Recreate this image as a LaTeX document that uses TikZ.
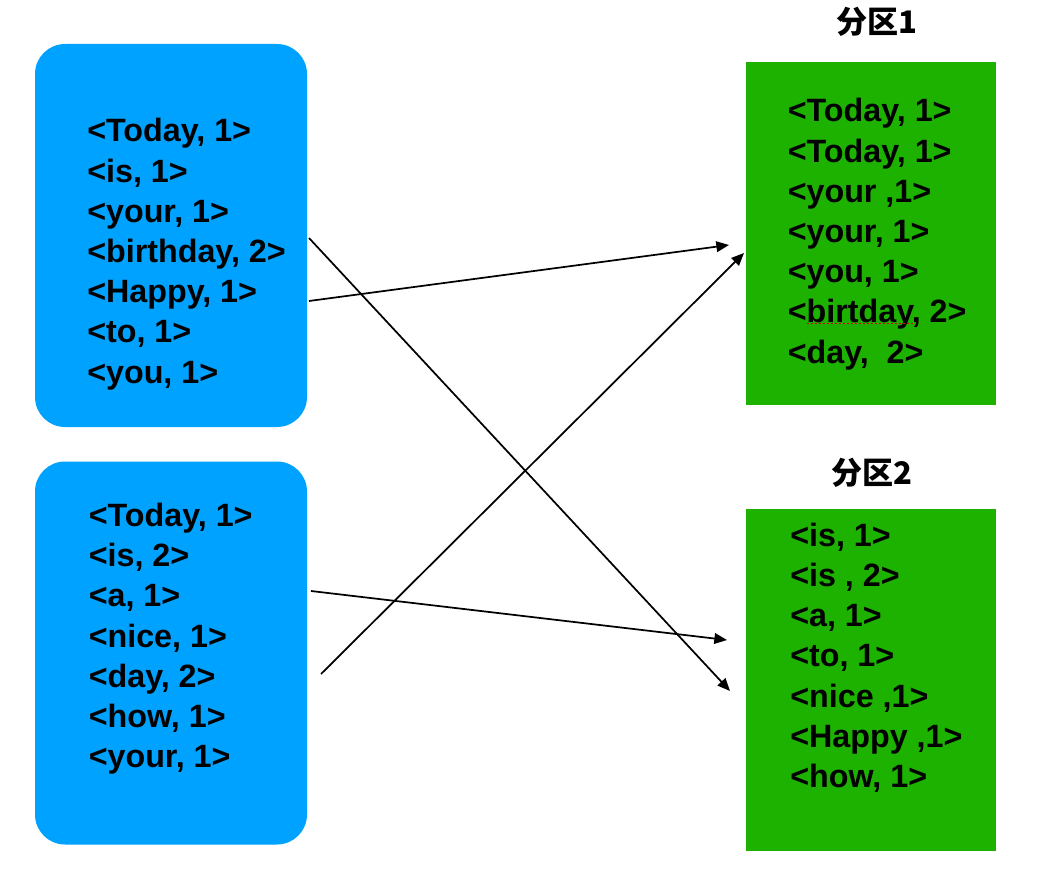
\documentclass[tikz,border=0pt]{standalone}
\usepackage{fontspec}
\setmainfont{Liberation Sans}
\newfontfamily\cjkfont{Noto Sans CJK SC}
\usetikzlibrary{arrows.meta}
\definecolor{boxblue}{RGB}{0,162,255}
\definecolor{boxgreen}{RGB}{29,177,0}
\tikzset{
  bluebox/.style={fill=boxblue, draw=none, rounded corners=22.5pt, minimum width=204pt, minimum height=287.25pt, inner sep=0pt},
  greenbox/.style={fill=boxgreen, draw=none, minimum width=187.5pt, minimum height=257pt, inner sep=0pt},
  entry/.style={anchor=base west, inner sep=0pt, font=\fontsize{24.2pt}{28pt}\selectfont\bfseries},
  title/.style={inner sep=0pt, font=\fontsize{23.3pt}{26pt}\selectfont\cjkfont\bfseries},
  link/.style={draw=black, line width=1.3pt, -{Triangle[length=9.5pt,width=8pt]}}
}
\begin{document}
\begin{tikzpicture}[x=0.75pt,y=-0.75pt]
\useasboundingbox (0,0) rectangle (1062,880);
% boxes
\node[bluebox] (b1) at (171,235.5) {};
\node[bluebox] (b2) at (171,653) {};
\node[greenbox] (g1) at (871,233.5) {};
\node[greenbox] (g2) at (871,680) {};
% titles
\node[title] (t1) at (877,22) {分区1};
\node[title] (t2) at (872,473) {分区2};
% entries
\foreach \txt [count=\i from 0] in {{<Today, 1>},{<is, 1>},{<your, 1>},{<birthday, 2>},{<Happy, 1>},{<to, 1>},{<you, 1>}}
  \node[entry] (b1l\i) at (87,142+40.17*\i) {\txt};
\foreach \txt [count=\i from 0] in {{<Today, 1>},{<is, 2>},{<a, 1>},{<nice, 1>},{<day, 2>},{<how, 1>},{<your, 1>}}
  \node[entry] (b2l\i) at (88.5,526.5+40.17*\i) {\txt};
\foreach \txt [count=\i from 0] in {{<Today, 1>},{<Today, 1>},{<your ,1>},{<your, 1>},{<you, 1>},{<birtday, 2>},{<day,\ \ 2>}}
  \node[entry] (g1l\i) at (787.5,122+40.17*\i) {\txt};
\foreach \txt [count=\i from 0] in {{<is, 1>},{<is , 2>},{<a, 1>},{<to, 1>},{<nice ,1>},{<Happy ,1>},{<how, 1>}}
  \node[entry] (g2l\i) at (790,546+40.3*\i) {\txt};
% spell-check underline
\draw[red!85!black, line width=1.2pt, dash pattern=on 1.5pt off 1.5pt] (807,323.5) -- (913,323.5);
% connectors
\coordinate (sA) at (309,238);
\coordinate (eA) at (730,691);
\coordinate (sB) at (309,301);
\coordinate (eB) at (729,245);
\coordinate (sC) at (311,591);
\coordinate (eC) at (727,640);
\coordinate (sD) at (321,674);
\coordinate (eD) at (744,253);
\draw[link] (sA) -- (eA);
\draw[link] (sB) -- (eB);
\draw[link] (sC) -- (eC);
\draw[link] (sD) -- (eD);
\end{tikzpicture}
\end{document}
